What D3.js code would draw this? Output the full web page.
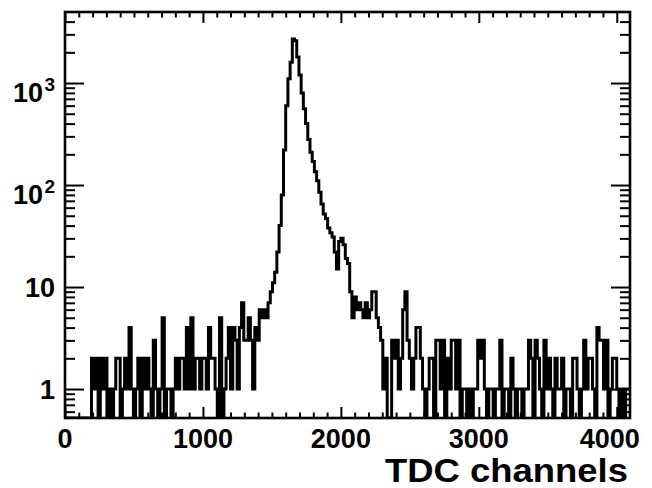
<!DOCTYPE html>
<html>
<head>
<meta charset="utf-8">
<script src="https://cdn.jsdelivr.net/npm/d3@7"></script>
<style>
  html, body { margin: 0; padding: 0; background: #fff; }
  svg { display: block; }
  .lbl { font-family: "Liberation Sans", Arial, Helvetica, sans-serif; font-weight: bold; fill: #000; }
</style>
</head>
<body>
<svg id="chart" width="652" height="488"></svg>
<script>
// TDC spectrum: 256 bins of 16 channels each (0 .. 4096)
const binWidth = 16;
const channelMax = 4096;
const counts = [
  // bins 0-11: empty
  0,0,0,0,0,0,0,0,0,0,0,0,
  // bins 12-88: flat background
  2,1,2,0,2,1,2,0,1,0, 1,2,2,0,1,2,1,4,1,0,
  1,2,0,2,1,2,1,0,3,1, 0,1,5,0,1,1,0,1,2,1,
  2,2,1,4,1,5,1,2,2,1, 2,2,1,4,2,2,1,0,5,0,
  1,2,4,1,4,3,1,4,7,3, 3,5,3,1,4,3,6,
  // bins 89-103: rising edge
  5,6,5,7,9,11,14,22,40,80,220,600,1100,1600,2700,
  // bins 104-128: falling edge
  2600,1800,1200,800,560,400,280,210,170,135,
  110,85,65,52,47,38,34,31,22,15,
  28,30,26,19,17,
  // bins 129-166: tail
  9,5,8,6,7,6,5,7,5,6, 9,9,5,4,3,1,2,0,0,3,
  2,3,1,2,6,9,3,2,1,2, 4,4,2,1,0,1,2,2,
  // bins 167-255: flat background
  0,3,3,1,3,0,2,1,3,3, 1,3,0,1,1,0,1,0,1,1,
  3,2,3,1,0,1,1,0,1,1, 3,0,1,1,0,2,1,0,1,1,
  0,1,1,3,2,0,3,2,1,0, 3,1,2,1,0,2,1,1,2,0,
  1,1,0,2,2,1,0,1,3,1, 2,2,1,0,4,3,3,1,3,0,
  1,2,2,1,0,1,0,1,1
];

const xMajor = [0, 1000, 2000, 3000, 4000];
const xMinor = d3.range(0, channelMax + 1, 100).filter(v => v % 1000 !== 0);
const yMajor = [1, 10, 100, 1000];
const yLabels = [
  { base: "1", exp: "" },
  { base: "10", exp: "" },
  { base: "10", exp: "2" },
  { base: "10", exp: "3" }
];
const xTitle = "TDC channels";

const frame = { left: 65, right: 630, top: 12, bottom: 418 };

const svg = d3.select("#chart");

const x = d3.scaleLinear().domain([0, channelMax]).range([frame.left, frame.right]);
const y = d3.scaleLog().domain([0.52, 4970]).range([frame.bottom, frame.top]);

const yMinor = [];
for (let e = -1; e <= 3; e++) {
  for (let m = 2; m <= 9; m++) {
    const v = m * Math.pow(10, e);
    if (v >= y.domain()[0] && v <= y.domain()[1]) yMinor.push(v);
  }
}

// inward ticks on all four sides
function styleAxis(g) {
  g.select(".domain").remove();
  g.selectAll(".tick line").attr("stroke", "#000").attr("stroke-width", 2);
  g.selectAll(".tick text").remove();
}

const xMajorLen = 11, xMinorLen = 5.5, yMajorLen = 19, yMinorLen = 10;

svg.append("g").attr("transform", `translate(0,${frame.bottom})`)
  .call(d3.axisBottom(x).tickValues(xMajor).tickSize(-xMajorLen)).call(styleAxis);
svg.append("g").attr("transform", `translate(0,${frame.bottom})`)
  .call(d3.axisBottom(x).tickValues(xMinor).tickSize(-xMinorLen)).call(styleAxis);
svg.append("g").attr("transform", `translate(0,${frame.top})`)
  .call(d3.axisTop(x).tickValues(xMajor).tickSize(-xMajorLen)).call(styleAxis);
svg.append("g").attr("transform", `translate(0,${frame.top})`)
  .call(d3.axisTop(x).tickValues(xMinor).tickSize(-xMinorLen)).call(styleAxis);

svg.append("g").attr("transform", `translate(${frame.left},0)`)
  .call(d3.axisLeft(y).tickValues(yMajor).tickSize(-yMajorLen)).call(styleAxis);
svg.append("g").attr("transform", `translate(${frame.left},0)`)
  .call(d3.axisLeft(y).tickValues(yMinor).tickSize(-yMinorLen)).call(styleAxis);
svg.append("g").attr("transform", `translate(${frame.right},0)`)
  .call(d3.axisRight(y).tickValues(yMajor).tickSize(-yMajorLen)).call(styleAxis);
svg.append("g").attr("transform", `translate(${frame.right},0)`)
  .call(d3.axisRight(y).tickValues(yMinor).tickSize(-yMinorLen)).call(styleAxis);

// histogram outline (empty bins drop to the lower frame edge)
svg.append("clipPath").attr("id", "plotClip")
  .append("rect")
  .attr("x", frame.left).attr("y", frame.top)
  .attr("width", frame.right - frame.left).attr("height", frame.bottom - frame.top);

const pts = [];
counts.forEach((c, i) => {
  const v = c > 0 ? c : y.domain()[0];
  pts.push([i * binWidth, v], [(i + 1) * binWidth, v]);
});
const line = d3.line().x(d => x(d[0])).y(d => y(d[1]));

svg.append("path")
  .attr("clip-path", "url(#plotClip)")
  .attr("d", line(pts))
  .attr("fill", "none")
  .attr("stroke", "#000")
  .attr("stroke-width", 3)
  .attr("stroke-linejoin", "miter");

// frame
svg.append("rect")
  .attr("x", frame.left).attr("y", frame.top)
  .attr("width", frame.right - frame.left).attr("height", frame.bottom - frame.top)
  .attr("fill", "none").attr("stroke", "#000").attr("stroke-width", 2.6);

// x tick labels
svg.append("g").selectAll("text").data(xMajor).join("text")
  .attr("class", "lbl")
  .attr("x", d => d === 4000 ? x(d) - 7 : x(d))
  .attr("y", 448)
  .attr("text-anchor", "middle")
  .style("font-size", "27px")
  .text(d => d);

// y tick labels with powers of ten
const yl = svg.append("g").selectAll("text").data(yMajor).join("text")
  .attr("class", "lbl")
  .attr("text-anchor", "end")
  .style("font-size", "27px");
yl.each(function (d, i) {
  const t = d3.select(this);
  const lab = yLabels[i];
  if (lab.exp) {
    t.attr("x", 43).attr("y", y(d) + 19).text(lab.base);
    svg.append("text").attr("class", "lbl")
      .attr("x", 55).attr("y", y(d) + 8)
      .attr("text-anchor", "end")
      .style("font-size", "19px")
      .text(lab.exp);
  } else {
    t.attr("x", 55).attr("y", y(d) + 10).text(lab.base);
  }
});

// axis title
svg.append("text").attr("class", "lbl")
  .attr("x", 385).attr("y", 482)
  .attr("textLength", 243)
  .attr("lengthAdjust", "spacingAndGlyphs")
  .style("font-size", "33px")
  .text(xTitle);
</script>
</body>
</html>
